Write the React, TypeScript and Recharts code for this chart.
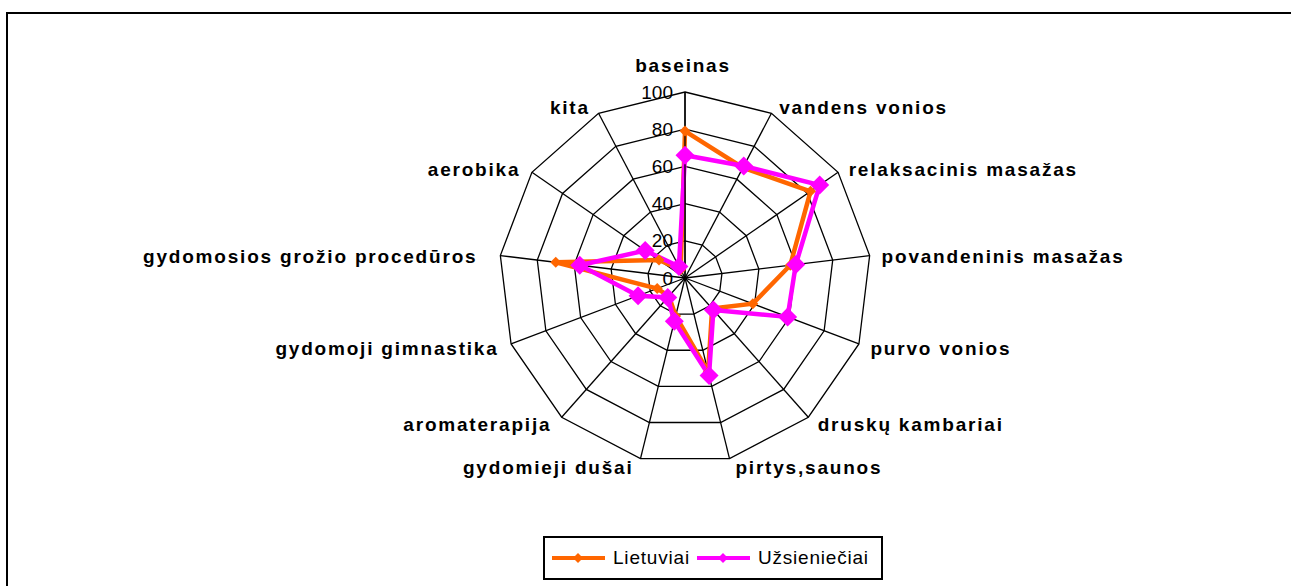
import React from 'react';
import { RadarChart, Radar, PolarGrid, PolarAngleAxis, PolarRadiusAxis, Legend } from 'recharts';

const categories = [
  'baseinas',
  'vandens vonios',
  'relaksacinis masažas',
  'povandeninis masažas',
  'purvo vonios',
  'druskų kambariai',
  'pirtys,saunos',
  'gydomieji dušai',
  'aromaterapija',
  'gydomoji gimnastika',
  'gydomosios grožio procedūros',
  'aerobika',
  'kita',
];
const lietuviai = [79, 67, 82, 57, 39, 22, 52, 21, 13, 16, 70, 17, 5];
const uzsienieciai = [66, 68, 88, 60, 59, 23, 54, 24, 14, 27, 57, 26, 7];
const radiusTicks = [0, 20, 40, 60, 80, 100];
const seriesNames = ['Lietuviai', 'Užsieniečiai'];

const data = categories.map((c, i) => ({ cat: c, L: lietuviai[i], U: uzsienieciai[i] }));

const FONT = '"Liberation Sans", Arial, sans-serif';
const ORANGE = '#FF6600';
const MAGENTA = '#FF00FF';

const AngleTick = (props: any) => {
  const { x, y, payload } = props;
  const rad = (payload.coordinate * Math.PI) / 180;
  const c = Math.cos(rad);
  const s = Math.sin(rad);
  let anchor: 'start' | 'end' | 'middle' = 'middle';
  let dx = 0;
  let dy = 8;
  if (c > 0.1) {
    anchor = 'start';
    dx = 4;
  } else if (c < -0.1) {
    anchor = 'end';
    dx = c < -0.95 ? -15 : -5;
  } else if (s > 0) {
    dy = -12;
    dx = -2;
  }
  return (
    <text
      x={x + dx}
      y={y + dy}
      textAnchor={anchor}
      fontFamily={FONT}
      fontWeight="bold"
      fontSize={19}
      letterSpacing={1.8}
      fill="#000"
    >
      {payload.value}
    </text>
  );
};

const RadiusTick = (props: any) => {
  const { x, y, payload } = props;
  return (
    <text x={x - 12} y={y + 6.5} textAnchor="end" fontFamily={FONT} fontSize={19} fill="#000">
      {payload.value}
    </text>
  );
};

const diamond = (size: number, color: string) => (props: any) => {
  const { cx, cy, index } = props;
  if (cx == null || cy == null) return <g key={index} />;
  const h = size / 2;
  return (
    <polygon
      key={`d-${index}`}
      points={`${cx},${cy - h} ${cx + h},${cy} ${cx},${cy + h} ${cx - h},${cy}`}
      fill={color}
      stroke="none"
    />
  );
};

const LegendBox = () => {
  const item = (name: string, color: string) => (
    <div style={{ display: 'flex', alignItems: 'center', marginRight: 6 }}>
      <svg width={56} height={12} style={{ display: 'block' }}>
        <line x1={1} y1={6} x2={54} y2={6} stroke={color} strokeWidth={4} />
        <polygon points="27,1 32,6 27,11 22,6" fill={color} />
      </svg>
      <span style={{ marginLeft: 6, fontSize: 19, letterSpacing: 0.8, fontFamily: FONT, color: '#000' }}>{name}</span>
    </div>
  );
  return (
    <div
      style={{
        boxSizing: 'border-box',
        width: 340,
        height: 44,
        border: '2px solid #000',
        background: '#fff',
        display: 'flex',
        alignItems: 'center',
        paddingLeft: 6,
      }}
    >
      {item(seriesNames[0], ORANGE)}
      {item(seriesNames[1], MAGENTA)}
    </div>
  );
};

export default function App() {
  return (
    <div style={{ position: 'relative', width: 1291, height: 586, overflow: 'hidden', background: '#fff' }}>
      <style>{`body{margin:0;}`}</style>
      <div
        style={{
          position: 'absolute',
          left: 6,
          top: 12,
          width: 2000,
          height: 2000,
          border: '2px solid #000',
          boxSizing: 'border-box',
        }}
      />
      <div style={{ position: 'absolute', left: 0, top: 0 }}>
        <RadarChart width={1291} height={586} data={data} cx={685} cy={278} outerRadius={186} margin={{ top: 0, right: 0, bottom: 0, left: 0 }}>
          <PolarGrid stroke="#000" strokeWidth={1.3} gridType="polygon" />
          <PolarAngleAxis dataKey="cat" tick={<AngleTick />} tickLine={false} axisLine={false} />
          <PolarRadiusAxis
            angle={90}
            domain={[0, 100]}
            ticks={radiusTicks as any}
            tickCount={6}
            tick={<RadiusTick />}
            axisLine={{ stroke: '#000', strokeWidth: 1.3 }}
            tickLine={false}
          />
          <Radar
            name={seriesNames[0]}
            dataKey="L"
            stroke={ORANGE}
            strokeWidth={4.5}
            fill="none"
            fillOpacity={0}
            dot={diamond(11, ORANGE)}
            isAnimationActive={false}
          />
          <Radar
            name={seriesNames[1]}
            dataKey="U"
            stroke={MAGENTA}
            strokeWidth={4.5}
            fill="none"
            fillOpacity={0}
            dot={diamond(19, MAGENTA)}
            isAnimationActive={false}
          />
          <Legend
            content={<LegendBox />}
            wrapperStyle={{ position: 'absolute', left: 543, top: 536, width: 340, height: 44 }}
          />
        </RadarChart>
      </div>
    </div>
  );
}
